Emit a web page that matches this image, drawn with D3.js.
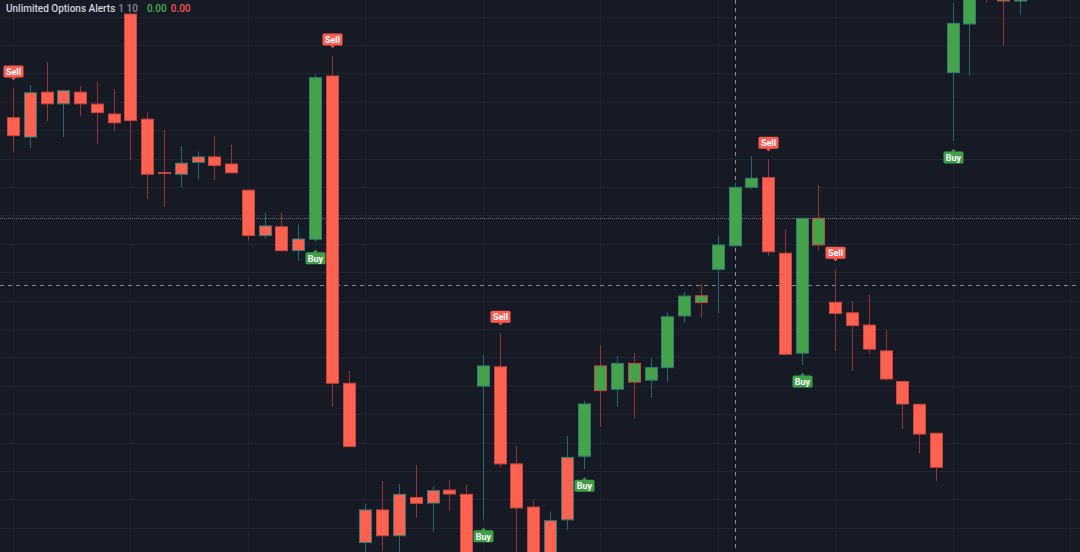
<!DOCTYPE html>
<html><head><meta charset="utf-8">
<script src="https://cdn.jsdelivr.net/npm/d3@7"></script>
<style>html,body{margin:0;padding:0;background:#161a25;overflow:hidden}svg{display:block}</style>
</head><body><svg id="chart" width="1080" height="552"></svg>
<script>
// ---- data ----
const opens  = [114.44,113.76,115.34,114.93,115.34,114.92,114.57,118.09,114.39,112.51,
                112.45,112.87,113.06,112.81,111.89,110.29,110.60,109.76,110.16,115.91,
                105.09,99.48,100.63,99.72,101.07,100.87,101.33,101.18,104.99,105.67,
                102.25,100.73,98.34,100.28,102.52,105.70,104.88,105.79,105.20,105.64,
                107.46,108.17,109.10,109.93,111.99,112.33,109.67,106.15,110.90,107.94,
                107.57,107.14,106.23,105.15,104.35,103.33,116.03,117.74,119.64,119.99,118.55];
const highs  = [115.49,115.59,116.40,115.42,115.56,115.71,115.45,118.13,114.64,114.01,
                113.44,113.24,113.80,113.49,111.89,111.10,111.10,110.69,115.98,116.61,
                105.52,100.84,101.65,101.54,102.21,101.47,101.68,101.53,106.09,106.85,
                102.88,100.98,100.57,103.23,104.47,106.41,106.05,106.15,105.99,107.59,
                108.31,108.59,110.28,112.15,113.09,112.98,110.51,110.90,112.07,109.10,
                107.99,108.22,106.97,105.15,104.35,103.33,118.47,119.47,119.99,120.35,119.29];
const lows   = [113.23,113.37,114.32,113.76,114.50,113.51,113.98,112.95,111.58,111.31,
                111.98,112.26,112.25,112.50,110.11,110.18,109.76,109.41,110.07,104.27,
                102.86,98.87,99.18,98.87,100.36,99.86,100.63,98.16,100.28,102.13,
                98.16,97.99,97.99,99.92,102.06,103.56,104.27,103.84,104.58,105.15,
                107.22,107.40,107.55,109.93,111.93,109.57,106.11,105.73,109.76,106.23,
                105.52,106.12,105.17,103.48,102.62,101.65,113.62,115.91,118.49,116.98,118.07];
const closes = [113.81,115.32,114.93,115.39,114.93,114.62,114.26,114.34,112.45,112.48,
                112.84,113.06,112.76,112.50,110.29,110.63,109.76,110.17,115.85,105.09,
                102.86,100.63,99.72,101.18,100.86,101.31,101.19,98.34,105.70,102.25,
                100.70,98.52,100.25,102.48,104.36,104.83,105.79,105.13,105.64,107.43,
                108.16,107.93,109.96,111.99,112.31,109.72,106.11,110.90,109.96,107.55,
                107.12,106.29,105.24,104.36,103.30,102.13,117.76,119.29,118.94,118.55,119.11];
const signalBars  = [0, 18, 19, 28, 29, 34, 45, 47, 49, 56];
const signalTypes = ["Sell","Buy","Sell","Buy","Sell","Buy","Sell","Buy","Sell","Buy"];
const legendTitle  = "Unlimited Options Alerts";
const legendParams = "1 10";
const legendValues = ["0.00", "0.00"];
const crosshairBar = 43;
const crosshairPrice = 108.54;
const lastPrice = 110.90;

// ---- styles ----
const C = {
  bg: "#161a25", grid: "#1f2331",
  red: "#ff6150", green: "#45a44a",
  upBorder: "#2f7c76", downBorder: "#c8473f",
  upWick: "#1f6d66", downWick: "#983040",
  sellBg: "#ff5a4f", buyBg: "#3f9f46",
  cross: "#8a8e99", text: "#d1d4dc", muted: "#868993",
  valGreen: "#4caf50", valRed: "#f05350"
};

const W = 1080, H = 552;
const svg = d3.select("#chart");
svg.append("rect").attr("width", W).attr("height", H).attr("fill", C.bg);

const x = d3.scaleLinear().domain([0, 56]).range([13, 952.7]);
const y = d3.scaleLinear().domain([99.148, 118.585]).range([552, 0]);

const bars = opens.map((o, i) => ({ i, o, h: highs[i], l: lows[i], c: closes[i] }));

// signal state -> body fill
let state = null;
const sigMap = new Map(signalBars.map((b, k) => [b, signalTypes[k]]));
bars.forEach(b => {
  if (sigMap.has(b.i)) state = sigMap.get(b.i);
  b.fill = state === "Buy" ? C.green : C.red;
});

// grid
const g = svg.append("g");
g.selectAll("line.h").data(d3.range(99, 119)).join("line")
  .attr("x1", 0).attr("x2", W)
  .attr("y1", d => Math.round(y(d)) + 0.5).attr("y2", d => Math.round(y(d)) + 0.5)
  .attr("stroke", C.grid).attr("stroke-width", 1);
g.selectAll("line.v").data(d3.range(0, 64, 7)).join("line")
  .attr("y1", 0).attr("y2", H)
  .attr("x1", d => Math.round(x(d)) + 0.5).attr("x2", d => Math.round(x(d)) + 0.5)
  .attr("stroke", C.grid).attr("stroke-width", 1);

// last price dotted line
svg.append("line").attr("x1", 0).attr("x2", W)
  .attr("y1", Math.round(y(lastPrice)) + 0.5).attr("y2", Math.round(y(lastPrice)) + 0.5)
  .attr("stroke", "#6d717c").attr("stroke-width", 1).attr("stroke-dasharray", "1,1");

// crosshair
svg.append("line").attr("x1", 0).attr("x2", W)
  .attr("y1", Math.round(y(crosshairPrice)) + 0.5).attr("y2", Math.round(y(crosshairPrice)) + 0.5)
  .attr("stroke", C.cross).attr("stroke-width", 1).attr("stroke-dasharray", "4,4");
svg.append("line").attr("y1", 0).attr("y2", H)
  .attr("x1", Math.round(x(crosshairBar)) + 0.5).attr("x2", Math.round(x(crosshairBar)) + 0.5)
  .attr("stroke", C.cross).attr("stroke-width", 1).attr("stroke-dasharray", "4,4");

// candles
const bw = 12;
const cg = svg.append("g").selectAll("g").data(bars).join("g");
cg.append("line")
  .attr("x1", d => Math.round(x(d.i)) + 0.5).attr("x2", d => Math.round(x(d.i)) + 0.5)
  .attr("y1", d => y(d.h)).attr("y2", d => y(d.l))
  .attr("stroke", d => d.c >= d.o ? C.upWick : C.downWick).attr("stroke-width", 1);
cg.append("rect")
  .attr("x", d => Math.round(x(d.i)) - bw / 2 + 0.5)
  .attr("width", bw)
  .attr("y", d => Math.min(y(d.o), y(d.c)))
  .attr("height", d => Math.max(1, Math.abs(y(d.o) - y(d.c))))
  .attr("fill", d => d.fill)
  .attr("stroke", d => d.c >= d.o ? C.upBorder : C.downBorder)
  .attr("stroke-width", 1);

// signal labels
const lw = 20, lh = 12;
signalBars.forEach((bi, k) => {
  const b = bars[bi], type = signalTypes[k], cx = Math.round(x(bi)) + 0.5;
  const lg = svg.append("g");
  let top, tipY, baseY;
  if (type === "Sell") {
    tipY = y(b.h) - 8; baseY = tipY - 2.5; top = baseY - lh;
  } else {
    tipY = y(b.l) + 8; baseY = tipY + 2.5; top = baseY;
  }
  const col = type === "Sell" ? C.sellBg : C.buyBg;
  lg.append("rect").attr("x", cx - lw / 2).attr("y", top).attr("width", lw).attr("height", lh)
    .attr("rx", 1.5).attr("fill", col);
  lg.append("path").attr("d", `M${cx - 2.5},${baseY}L${cx},${tipY}L${cx + 2.5},${baseY}Z`).attr("fill", col);
  lg.append("text").attr("x", cx).attr("y", top + lh / 2 + 3.3)
    .attr("text-anchor", "middle").attr("fill", "#ffffff")
    .attr("font-family", "Roboto, 'Noto Sans', sans-serif").attr("font-size", 9).attr("font-weight", 700)
    .text(type);
});

// legend
const lt = svg.append("text").attr("x", 6).attr("y", 12)
  .attr("font-family", "Roboto, 'Noto Sans', sans-serif").attr("font-size", 10).attr("font-weight", 500);
lt.append("tspan").attr("fill", C.text).text(legendTitle);
lt.append("tspan").attr("fill", C.muted).attr("dx", 3).text(legendParams);
lt.append("tspan").attr("fill", C.valGreen).attr("dx", 9).text(legendValues[0]);
lt.append("tspan").attr("fill", C.valRed).attr("dx", 4).text(legendValues[1]);
</script></body></html>
